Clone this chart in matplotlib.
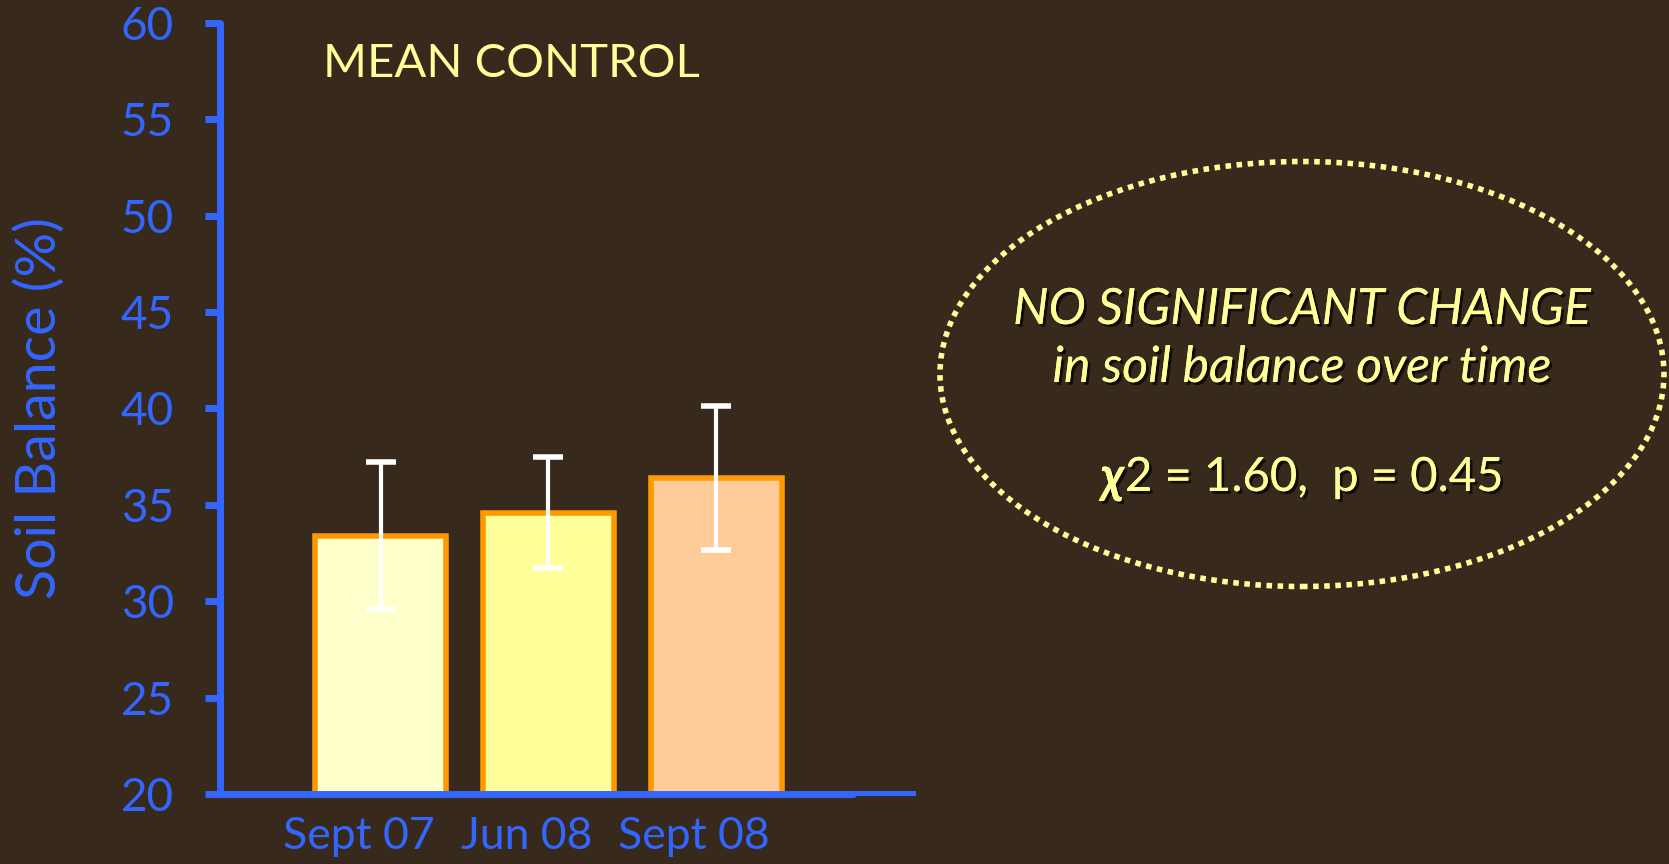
import matplotlib
matplotlib.use("Agg")
import matplotlib.pyplot as plt
import matplotlib.transforms as mtransforms
from matplotlib.patches import Ellipse
from matplotlib.lines import Line2D
import matplotlib.patheffects as pe

# data
categories = ["Sept 07", "Jun 08", "Sept 08"]
means = [33.4, 34.6, 36.4]
errors = [3.8, 2.9, 3.75]
bar_colors = ["#ffffcc", "#ffff99", "#ffcc99"]

bg = "#372a1d"
blue = "#3366ff"
yellow = "#ffff99"
plt.rcParams['font.family'] = ['Lato', 'DejaVu Sans']

fig = plt.figure(figsize=(16.69, 8.64), dpi=100, facecolor=bg)
ax = fig.add_axes([220 / 1669, 70 / 864, 633 / 1669, 771 / 864], facecolor=bg)

x = list(range(len(categories)))
ax.bar(x, [m - 20 for m in means], bottom=20, width=0.78, color=bar_colors,
       edgecolor="#ff9900", linewidth=4, zorder=2)
ax.errorbar(x, means, yerr=errors, fmt="none", ecolor="white", elinewidth=3,
            capsize=11, capthick=4, zorder=3)

ax.set_xlim(-0.958, 2.815)
ax.set_ylim(20, 60)
ax.set_yticks(range(20, 61, 5))
ax.set_xticks(x)
ax.set_xticklabels(categories)

for s in ["top", "right"]:
    ax.spines[s].set_visible(False)
for s in ["left", "bottom"]:
    ax.spines[s].set_color(blue)
    ax.spines[s].set_linewidth(5)
    ax.spines[s].set_capstyle("round")

ax.tick_params(axis="y", direction="out", length=11, width=5, color=blue,
               labelcolor=blue, labelsize=33, pad=22)
ax.tick_params(axis="x", length=0, labelcolor=blue, labelsize=32, pad=16)
for t in ax.yaxis.get_major_ticks():
    t.tick1line.set_solid_capstyle("round")
offset = mtransforms.ScaledTranslation(-0.22, 0, fig.dpi_scale_trans)
for lbl in ax.get_xticklabels():
    lbl.set_transform(lbl.get_transform() + offset)

ax.yaxis.set_label_coords(-154 / 633, 0.5)
ax.set_ylabel("Soil Balance (%)", color=blue, fontsize=40)

# thin continuation of the x axis
fig.add_artist(Line2D([853 / 1669, 913 / 1669], [71 / 864, 71 / 864],
                      transform=fig.transFigure, color=blue, linewidth=3.6))

fig.text(511 / 1669, 1 - 64 / 864, "MEAN CONTROL", color=yellow, fontsize=34,
         ha="center", va="center")

# dotted ellipse with result text
fig.add_artist(Ellipse((1302 / 1669, 1 - 374 / 864), 724 / 1669, 425 / 864,
                       transform=fig.transFigure, fill=False, edgecolor=yellow,
                       linewidth=4, linestyle=(0, (1, 1))))

shadow = [pe.withSimplePatchShadow(offset=(2, -2), shadow_rgbFace="black", alpha=0.7),
          pe.Normal()]
fig.text(1302 / 1669, 1 - 310 / 864, "NO SIGNIFICANT CHANGE", color=yellow,
         fontsize=36, style="italic", ha="center", va="center", path_effects=shadow)
fig.text(1302 / 1669, 1 - 368 / 864, "in soil balance over time", color=yellow,
         fontsize=36, style="italic", ha="center", va="center", path_effects=shadow)
fig.text(1124 / 1669, 1 - 478 / 864, "\u03c7", color=yellow, fontsize=36,
         style="italic", weight="bold", ha="right", va="center", path_effects=shadow)
fig.text(1125 / 1669, 1 - 478 / 864, "2 = 1.60,  p = 0.45", color=yellow,
         fontsize=34, ha="left", va="center", path_effects=shadow)

fig.savefig("out.png", dpi=100, facecolor=bg)
